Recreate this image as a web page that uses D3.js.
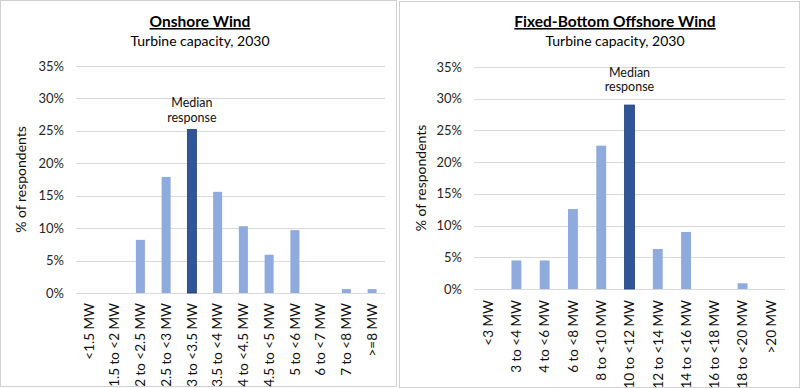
<!DOCTYPE html>
<html>
<head>
<meta charset="utf-8">
<script src="https://cdn.jsdelivr.net/npm/d3@7/dist/d3.min.js"></script>
<style>
  html, body { margin: 0; padding: 0; background: #fff; }
  svg { display: block; font-family: Lato, "Open Sans", sans-serif; }
</style>
</head>
<body>
<svg id="chart" width="800" height="388"></svg>
<script>
// ---------- data ----------
const onshoreCategories = ["<1.5 MW", "1.5 to <2 MW", "2 to <2.5 MW", "2.5 to <3 MW", "3 to <3.5 MW",
  "3.5 to <4 MW", "4 to <4.5 MW", "4.5 to <5 MW", "5 to <6 MW", "6 to <7 MW", "7 to <8 MW", ">=8 MW"];
const onshoreValues = [0, 0, 8.2, 17.9, 25.2, 15.6, 10.3, 5.9, 9.7, 0, 0.6, 0.6];
const onshoreMedian = "3 to <3.5 MW";

const offshoreCategories = ["<3 MW", "3 to <4 MW", "4 to <6 MW", "6 to <8 MW", "8 to <10 MW", "10 to <12 MW",
  "12 to <14 MW", "14 to <16 MW", "16 to <18 MW", "18 to <20 MW", ">20 MW"];
const offshoreValues = [0, 4.5, 4.5, 12.6, 22.6, 29.0, 6.3, 9.0, 0, 0.9, 0];
const offshoreMedian = "10 to <12 MW";

const yTicks = [0, 5, 10, 15, 20, 25, 30, 35];
const titles = ["Onshore Wind", "Fixed-Bottom Offshore Wind"];
const subtitle = "Turbine capacity, 2030";
const yAxisTitle = "% of respondents";
const medianLabel = ["Median", "response"];

// ---------- drawing ----------
const svg = d3.select("#chart");
const LIGHT = "#8FAADC", DARK = "#2F5597", DARK_STROKE = "#203F7A";

function panel(cfg) {
  const g = svg.append("g");
  g.append("rect")
    .attr("x", cfg.box[0] + 0.5).attr("y", cfg.box[1] + 0.5)
    .attr("width", cfg.box[2] - 1).attr("height", cfg.box[3] - 1)
    .attr("fill", "#fff").attr("stroke", "#D0D0D0").attr("stroke-width", 1);

  const x = d3.scaleBand().domain(cfg.categories)
    .range([cfg.x0, cfg.x1]).paddingInner(0.65).paddingOuter(0.325);
  const y = d3.scaleLinear().domain([0, 35]).range([cfg.y0, cfg.y1]);

  g.append("g").selectAll("line").data(yTicks).join("line")
    .attr("x1", cfg.x0).attr("x2", cfg.x1)
    .attr("y1", d => Math.round(y(d)) + 0.5).attr("y2", d => Math.round(y(d)) + 0.5)
    .attr("stroke", "#D9D9D9").attr("stroke-width", 1);

  g.append("g").selectAll("text").data(yTicks).join("text")
    .attr("x", cfg.tickX).attr("y", d => y(d))
    .attr("dy", "0.35em").attr("text-anchor", "end")
    .attr("font-size", 13).attr("fill", "#262626")
    .text(d => d + "%");

  g.append("g").selectAll("rect").data(cfg.categories.map((c, i) => ({c, v: cfg.values[i]})))
    .join("rect")
    .filter(d => d.v > 0)
    .attr("x", d => x(d.c)).attr("width", x.bandwidth())
    .attr("y", d => y(d.v)).attr("height", d => y(0) - y(d.v))
    .attr("fill", d => d.c === cfg.median ? DARK : LIGHT)
    .attr("stroke", d => d.c === cfg.median ? DARK_STROKE : "none")
    .attr("stroke-width", 0.8);

  g.append("g").selectAll("text").data(cfg.categories).join("text")
    .attr("transform", d => `translate(${x(d) + x.bandwidth() / 2},${cfg.labelTop}) rotate(-90)`)
    .attr("text-anchor", "end").attr("dy", "0.35em")
    .attr("font-size", 13.5).attr("fill", "#111")
    .text(d => d);

  g.append("text")
    .attr("transform", `translate(${cfg.yTitleX},${(cfg.y0 + cfg.y1) / 2}) rotate(-90)`)
    .attr("text-anchor", "middle").attr("dy", "0.35em")
    .attr("font-size", 14).attr("fill", "#111")
    .text(yAxisTitle);

  g.append("text")
    .attr("x", cfg.titleX).attr("y", 27).attr("text-anchor", "middle")
    .attr("font-size", 15.5).attr("font-weight", "bold").attr("fill", "#000")
    .attr("text-decoration", "underline")
    .text(cfg.title);
  g.append("text")
    .attr("x", cfg.titleX).attr("y", 46).attr("text-anchor", "middle")
    .attr("font-size", 14).attr("fill", "#000")
    .text(subtitle);

  const mi = cfg.categories.indexOf(cfg.median);
  const mx = x(cfg.median) + x.bandwidth() / 2;
  const mTop = y(cfg.values[mi]);
  g.append("g").selectAll("text").data(medianLabel).join("text")
    .attr("x", mx).attr("y", (d, i) => mTop - cfg.medianGap - (1 - i) * 14.5)
    .attr("text-anchor", "middle")
    .attr("font-size", 12.5).attr("fill", "#111")
    .text(d => d);
}

panel({
  box: [0, 0, 397, 387],
  categories: onshoreCategories, values: onshoreValues, median: onshoreMedian,
  x0: 76, x1: 385, y0: 293, y1: 66,
  tickX: 64, labelTop: 303, yTitleX: 21, titleX: 200, medianGap: 8,
  title: titles[0]
});
panel({
  box: [399, 1, 401, 387],
  categories: offshoreCategories, values: offshoreValues, median: offshoreMedian,
  x0: 474, x1: 785, y0: 289, y1: 67,
  tickX: 462, labelTop: 300, yTitleX: 421, titleX: 615, medianGap: 14,
  title: titles[1]
});
</script>
</body>
</html>
